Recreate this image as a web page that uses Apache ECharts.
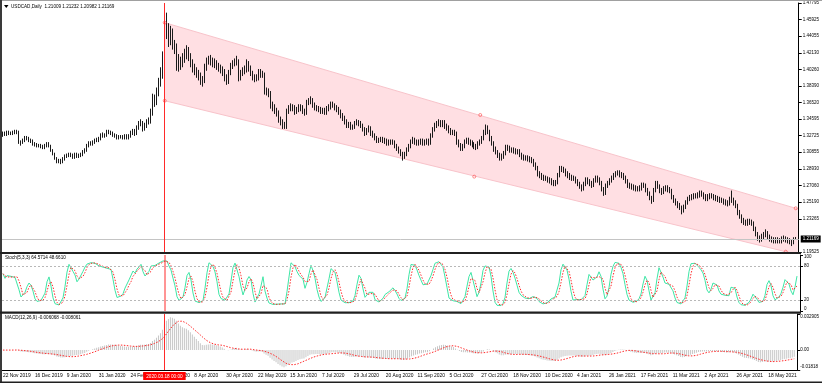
<!DOCTYPE html>
<html><head><meta charset="utf-8">
<script src="https://cdn.jsdelivr.net/npm/echarts@6/dist/echarts.min.js"></script>
<style>html,body{margin:0;padding:0;background:#fff}#c{width:822px;height:383px}</style>
</head><body><div id="c"></div>
<script>
// ---------- data ----------
const dateLabels = ['22 Nov 2019','16 Dec 2019','9 Jan 2020','31 Jan 2020','24 Feb 2020','17 Mar 2020','8 Apr 2020','30 Apr 2020','22 May 2020','15 Jun 2020','7 Jul 2020','29 Jul 2020','20 Aug 2020','11 Sep 2020','5 Oct 2020','27 Oct 2020','18 Nov 2020','10 Dec 2020','4 Jan 2021','26 Jan 2021','17 Feb 2021','11 Mar 2021','2 Apr 2021','26 Apr 2021','18 May 2021'];
const labelEvery = 16;
const firstOpen = 1.329;
const closes = [1.330,1.329,1.331,1.330,1.330,1.331,1.331,1.332,1.321,1.319,
1.322,1.325,1.324,1.322,1.321,1.318,1.317,1.316,1.316,1.315,
1.314,1.316,1.318,1.316,1.311,1.307,1.302,1.298,1.299,1.298,
1.301,1.304,1.305,1.306,1.305,1.303,1.306,1.304,1.305,1.306,
1.309,1.311,1.316,1.319,1.318,1.320,1.322,1.322,1.324,1.328,
1.327,1.328,1.332,1.331,1.330,1.328,1.327,1.325,1.326,1.326,
1.325,1.327,1.325,1.327,1.330,1.332,1.330,1.337,1.341,1.342,
1.336,1.339,1.343,1.344,1.354,1.368,1.366,1.377,1.388,1.396,
1.419,1.447,1.450,1.437,1.446,1.431,1.428,1.416,1.406,1.412,
1.416,1.421,1.425,1.418,1.410,1.405,1.401,1.398,1.395,1.389,
1.390,1.405,1.412,1.413,1.412,1.410,1.409,1.406,1.404,1.402,
1.399,1.393,1.389,1.399,1.406,1.409,1.411,1.412,1.393,1.398,
1.401,1.402,1.410,1.404,1.398,1.394,1.392,1.393,1.400,1.397,
1.397,1.377,1.378,1.376,1.362,1.360,1.356,1.353,1.346,1.343,
1.339,1.337,1.355,1.358,1.360,1.359,1.355,1.357,1.360,1.359,
1.355,1.353,1.365,1.366,1.368,1.362,1.359,1.358,1.357,1.355,
1.356,1.354,1.358,1.360,1.363,1.362,1.359,1.357,1.354,1.350,
1.347,1.343,1.339,1.340,1.337,1.337,1.341,1.343,1.341,1.339,
1.335,1.330,1.333,1.336,1.330,1.328,1.325,1.322,1.322,1.323,
1.322,1.321,1.319,1.320,1.320,1.320,1.316,1.313,1.310,1.307,
1.303,1.306,1.311,1.315,1.320,1.322,1.320,1.319,1.320,1.321,
1.319,1.320,1.321,1.319,1.327,1.334,1.339,1.341,1.342,1.340,
1.342,1.338,1.336,1.333,1.331,1.331,1.330,1.320,1.317,1.313,
1.315,1.320,1.322,1.320,1.319,1.317,1.315,1.314,1.318,1.320,
1.324,1.330,1.336,1.332,1.324,1.319,1.312,1.309,1.305,1.302,
1.304,1.307,1.314,1.313,1.311,1.311,1.310,1.309,1.309,1.306,
1.303,1.302,1.302,1.301,1.300,1.299,1.295,1.291,1.284,1.282,
1.280,1.279,1.279,1.277,1.276,1.274,1.273,1.274,1.282,1.290,
1.289,1.288,1.284,1.282,1.280,1.279,1.279,1.276,1.273,1.270,
1.267,1.272,1.277,1.275,1.273,1.271,1.276,1.279,1.277,1.274,
1.267,1.262,1.270,1.273,1.276,1.279,1.282,1.284,1.285,1.283,
1.282,1.280,1.276,1.271,1.270,1.269,1.268,1.267,1.267,1.268,
1.271,1.271,1.266,1.262,1.257,1.254,1.265,1.273,1.270,1.265,
1.263,1.267,1.268,1.266,1.265,1.258,1.254,1.251,1.248,1.246,
1.242,1.246,1.251,1.255,1.257,1.258,1.259,1.259,1.260,1.262,
1.261,1.258,1.256,1.258,1.259,1.259,1.257,1.256,1.255,1.254,
1.254,1.252,1.251,1.250,1.255,1.254,1.251,1.248,1.240,1.236,
1.231,1.229,1.228,1.230,1.229,1.228,1.222,1.216,1.211,1.209,
1.213,1.215,1.217,1.212,1.210,1.209,1.208,1.209,1.208,1.208,
1.210,1.211,1.209,1.208,1.207,1.205,1.21009,1.21169];
const highs = [1.332,1.332,1.333,1.333,1.332,1.333,1.334,1.334,1.333,1.322,
1.324,1.327,1.327,1.326,1.324,1.323,1.320,1.319,1.318,1.318,
1.317,1.318,1.320,1.320,1.317,1.312,1.308,1.303,1.301,1.301,
1.303,1.306,1.307,1.308,1.308,1.307,1.308,1.308,1.307,1.308,
1.311,1.313,1.318,1.321,1.321,1.322,1.324,1.325,1.326,1.330,
1.331,1.330,1.334,1.334,1.333,1.332,1.330,1.329,1.328,1.328,
1.328,1.329,1.329,1.329,1.333,1.335,1.335,1.339,1.344,1.346,
1.344,1.342,1.346,1.348,1.358,1.375,1.374,1.382,1.393,1.405,
1.423,1.453,1.467,1.455,1.452,1.449,1.436,1.432,1.420,1.417,
1.421,1.426,1.430,1.428,1.421,1.414,1.409,1.405,1.402,1.399,
1.395,1.409,1.416,1.418,1.419,1.416,1.415,1.413,1.410,1.408,
1.406,1.403,1.397,1.402,1.410,1.413,1.415,1.418,1.414,1.402,
1.405,1.407,1.414,1.412,1.407,1.401,1.397,1.397,1.403,1.403,
1.401,1.399,1.382,1.381,1.378,1.366,1.363,1.359,1.356,1.349,
1.346,1.343,1.358,1.362,1.364,1.363,1.362,1.360,1.363,1.363,
1.362,1.358,1.368,1.370,1.372,1.370,1.365,1.362,1.361,1.360,
1.359,1.359,1.361,1.363,1.366,1.366,1.364,1.362,1.360,1.357,
1.353,1.350,1.346,1.343,1.343,1.340,1.344,1.346,1.345,1.344,
1.341,1.337,1.336,1.339,1.338,1.333,1.330,1.327,1.325,1.326,
1.326,1.325,1.324,1.323,1.323,1.323,1.322,1.318,1.315,1.312,
1.309,1.309,1.314,1.318,1.323,1.326,1.325,1.323,1.323,1.324,
1.324,1.323,1.324,1.324,1.330,1.337,1.342,1.344,1.346,1.345,
1.345,1.345,1.341,1.339,1.336,1.334,1.334,1.332,1.323,1.319,
1.318,1.323,1.325,1.325,1.323,1.322,1.320,1.318,1.321,1.323,
1.327,1.334,1.340,1.339,1.334,1.327,1.321,1.315,1.311,1.308,
1.307,1.310,1.317,1.317,1.316,1.314,1.314,1.313,1.312,1.312,
1.308,1.306,1.305,1.305,1.304,1.303,1.301,1.297,1.293,1.287,
1.285,1.283,1.282,1.281,1.280,1.279,1.277,1.277,1.285,1.293,
1.293,1.292,1.290,1.287,1.285,1.283,1.282,1.281,1.278,1.275,
1.272,1.275,1.280,1.280,1.278,1.276,1.279,1.282,1.282,1.280,
1.276,1.269,1.273,1.276,1.279,1.282,1.285,1.287,1.288,1.288,
1.286,1.285,1.282,1.278,1.274,1.273,1.272,1.271,1.270,1.271,
1.274,1.274,1.273,1.268,1.264,1.259,1.268,1.276,1.276,1.272,
1.268,1.270,1.271,1.271,1.269,1.267,1.260,1.256,1.253,1.251,
1.248,1.249,1.254,1.258,1.260,1.261,1.262,1.262,1.263,1.265,
1.265,1.263,1.261,1.261,1.262,1.262,1.261,1.260,1.259,1.258,
1.257,1.256,1.255,1.254,1.258,1.265,1.257,1.254,1.250,1.243,
1.238,1.234,1.232,1.233,1.233,1.232,1.230,1.224,1.218,1.214,
1.216,1.218,1.221,1.219,1.215,1.213,1.212,1.212,1.212,1.211,
1.213,1.214,1.213,1.212,1.211,1.209,1.212,1.21232];
const lows = [1.326,1.327,1.327,1.328,1.328,1.328,1.329,1.329,1.318,1.316,
1.318,1.320,1.322,1.320,1.319,1.316,1.315,1.314,1.314,1.313,
1.312,1.312,1.314,1.314,1.309,1.305,1.300,1.296,1.296,1.295,
1.296,1.299,1.302,1.303,1.303,1.301,1.301,1.302,1.302,1.303,
1.304,1.307,1.309,1.314,1.316,1.316,1.318,1.320,1.320,1.322,
1.325,1.325,1.326,1.329,1.328,1.326,1.325,1.323,1.323,1.324,
1.323,1.323,1.323,1.323,1.325,1.328,1.327,1.328,1.334,1.338,
1.332,1.333,1.336,1.340,1.341,1.350,1.360,1.362,1.372,1.383,
1.392,1.415,1.437,1.428,1.430,1.425,1.420,1.401,1.400,1.402,
1.405,1.410,1.414,1.412,1.405,1.399,1.396,1.393,1.390,1.385,
1.383,1.387,1.401,1.408,1.407,1.405,1.404,1.402,1.400,1.398,
1.395,1.389,1.385,1.386,1.396,1.403,1.406,1.407,1.389,1.390,
1.395,1.397,1.399,1.400,1.395,1.390,1.388,1.389,1.390,1.393,
1.393,1.374,1.373,1.371,1.358,1.355,1.352,1.349,1.342,1.339,
1.335,1.335,1.335,1.352,1.355,1.355,1.351,1.352,1.354,1.355,
1.352,1.350,1.351,1.362,1.363,1.359,1.356,1.355,1.354,1.352,
1.352,1.351,1.351,1.355,1.357,1.359,1.356,1.354,1.351,1.347,
1.344,1.340,1.336,1.336,1.334,1.334,1.335,1.339,1.338,1.336,
1.332,1.327,1.328,1.331,1.327,1.325,1.322,1.319,1.319,1.320,
1.319,1.318,1.316,1.316,1.317,1.317,1.313,1.310,1.307,1.304,
1.299,1.301,1.304,1.309,1.313,1.318,1.317,1.316,1.316,1.317,
1.316,1.316,1.317,1.316,1.317,1.325,1.332,1.336,1.338,1.337,
1.337,1.335,1.333,1.330,1.328,1.328,1.327,1.317,1.314,1.310,
1.310,1.313,1.318,1.317,1.316,1.314,1.312,1.311,1.312,1.316,
1.318,1.322,1.328,1.329,1.321,1.316,1.309,1.306,1.302,1.299,
1.299,1.301,1.305,1.310,1.308,1.308,1.307,1.306,1.306,1.303,
1.300,1.299,1.299,1.298,1.297,1.296,1.292,1.288,1.281,1.279,
1.277,1.276,1.276,1.274,1.273,1.271,1.270,1.270,1.272,1.280,
1.286,1.285,1.281,1.279,1.277,1.276,1.276,1.273,1.270,1.267,
1.264,1.265,1.270,1.272,1.270,1.268,1.269,1.274,1.274,1.271,
1.264,1.259,1.260,1.268,1.271,1.274,1.277,1.280,1.282,1.280,
1.279,1.277,1.273,1.268,1.267,1.266,1.265,1.264,1.264,1.264,
1.265,1.268,1.263,1.259,1.254,1.250,1.252,1.263,1.267,1.262,
1.260,1.261,1.264,1.263,1.262,1.255,1.251,1.248,1.245,1.243,
1.238,1.240,1.244,1.249,1.253,1.254,1.255,1.256,1.256,1.257,
1.258,1.255,1.253,1.253,1.255,1.256,1.254,1.253,1.252,1.251,
1.251,1.249,1.248,1.247,1.248,1.251,1.248,1.245,1.237,1.233,
1.228,1.226,1.225,1.225,1.226,1.225,1.219,1.213,1.208,1.206,
1.207,1.210,1.212,1.209,1.207,1.206,1.205,1.205,1.205,1.205,
1.205,1.207,1.206,1.205,1.204,1.202,1.204,1.20982];

const mainTicks = [1.47795,1.45925,1.44055,1.42130,1.40260,1.38390,1.36520,1.34595,1.32725,1.30855,1.28930,1.27060,1.25190,1.23265,1.19525];
const mainRange = [1.19525, 1.47795];
const stochTicks = [100, 80, 20, 0];
const stochLevels = [80, 20];
const macdTicks = [0.032905, 0, -0.01818];
const macdTickText = ['0.032905', '0.00', '-0.01818'];
const macdRange = [-0.01818, 0.032905];
const lastPrice = 1.21169;
const markerBar = 81;
const markerText = '2020.03.18 00:00';
const channelX = [81, 398];
const channelUpper = [1.4556, 1.2442];
const channelLower = [1.3670, 1.1923];
const channelPoints = [[81,1.4556],[81,1.3670],[239,1.3508],[236,1.2808],[397,1.2449],[392,1.1956]];
const titleMain = 'USDCAD,Daily  1.21009 1.21232 1.20982 1.21169';
const titleStoch = 'Stoch(5,3,3) 64.5714 48.6610';
const titleMacd = 'MACD(12,26,9) -0.006068 -0.008061';

// ---------- derived tables ----------
const opens = [firstOpen].concat(closes.slice(0, -1));
const candles = closes.map((c, i) => [opens[i], c, lows[i], highs[i]]);
const cats = Array.from({length: closes.length + 1}, (_, i) => String(i));

// indicators as defined by the terminal (MACD 12,26,9 ; Stochastic 5,3,3)
function ema(src, p) { const k = 2 / (p + 1); let e = src[0]; return src.map((v, i) => (e = i === 0 ? v : e + k * (v - e))); }
function sma(src, p) { return src.map((_, i) => { const s = Math.max(0, i - p + 1); let t = 0; for (let j = s; j <= i; j++) t += src[j]; return t / (i - s + 1); }); }
const e12 = ema(closes, 12), e26 = ema(closes, 26);
const macdMain = closes.map((_, i) => e12[i] - e26[i]);
const macdSignal = sma(macdMain, 9);
const rawNum = [], rawDen = [];
closes.forEach((c, i) => { const s = Math.max(0, i - 4); let hh = -Infinity, ll = Infinity; for (let j = s; j <= i; j++) { hh = Math.max(hh, highs[j]); ll = Math.min(ll, lows[j]); } rawNum.push(c - ll); rawDen.push(hh - ll); });
const stochK = closes.map((_, i) => { const s = Math.max(0, i - 2); let n = 0, d = 0; for (let j = s; j <= i; j++) { n += rawNum[j]; d += rawDen[j]; } return d > 0 ? n / d * 100 : 50; });
const stochD = sma(stochK, 3);

// ---------- chart ----------
const FONT = 'Liberation Sans, Arial, sans-serif';
const chart = echarts.init(document.getElementById('c'), null, {renderer: 'canvas'});
const grids = [
  {left: 2, top: 3, width: 798, height: 249},
  {left: 2, top: 255, width: 798, height: 56},
  {left: 2, top: 314, width: 798, height: 56}
];
const redLine = () => ({xAxis: String(markerBar), lineStyle: {color: '#ff2a2a', width: 1, type: 'solid', opacity: 1}, label: {show: false}});

chart.setOption({
  animation: false,
  backgroundColor: '#ffffff',
  grid: grids,
  xAxis: grids.map((g, gi) => ({
    type: 'category', gridIndex: gi, data: cats, boundaryGap: true,
    axisLine: {show: gi === 2, onZero: false, lineStyle: {color: '#000', width: 1}},
    axisTick: {show: false},
    splitLine: {show: false},
    axisLabel: gi === 2 ? {
      show: true, align: 'left', margin: 3, fontSize: 4.9, color: '#000', fontFamily: FONT,
      interval: (idx) => idx % labelEvery === 0 && idx / labelEvery < dateLabels.length,
      formatter: (v, idx) => dateLabels[idx / labelEvery] || ''
    } : {show: false}
  })),
  yAxis: [
    {type: 'value', gridIndex: 0, position: 'right', min: mainRange[0], max: mainRange[1], scale: true,
      axisLine: {show: true, lineStyle: {color: '#000', width: 1}},
      axisTick: {show: true, customValues: mainTicks, length: 3, lineStyle: {color: '#000'}},
      axisLabel: {show: true, customValues: mainTicks, formatter: v => v.toFixed(5), fontSize: 4.5, color: '#000', margin: 4, fontFamily: FONT},
      splitLine: {show: false}},
    {type: 'value', gridIndex: 1, position: 'right', min: 0, max: 100,
      axisLine: {show: true, lineStyle: {color: '#000', width: 1}},
      axisTick: {show: true, customValues: stochTicks, length: 3, lineStyle: {color: '#000'}},
      axisLabel: {show: true, customValues: stochTicks, fontSize: 4.5, color: '#000', margin: 4, fontFamily: FONT,
        formatter: v => v === 100 ? '{t|100}' : (v === 0 ? '{b|0}' : String(v)),
        rich: {t: {fontSize: 4.5, padding: [4, 0, 0, 0], fontFamily: FONT}, b: {fontSize: 4.5, padding: [0, 0, 4, 0], fontFamily: FONT}}},
      splitLine: {show: false}},
    {type: 'value', gridIndex: 2, position: 'right', min: macdRange[0], max: macdRange[1],
      axisLine: {show: true, lineStyle: {color: '#000', width: 1}},
      axisTick: {show: true, customValues: macdTicks, length: 3, lineStyle: {color: '#000'}},
      axisLabel: {show: true, customValues: macdTicks, fontSize: 4.5, color: '#000', margin: 3, fontFamily: FONT,
        formatter: v => { const k = macdTicks.indexOf(v); const t = k >= 0 ? macdTickText[k] : ''; return k === 0 ? '{t|' + t + '}' : (k === 2 ? '{b|' + t + '}' : t); },
        rich: {t: {fontSize: 4.5, padding: [6, 0, 0, 0], fontFamily: FONT}, b: {fontSize: 4.5, padding: [0, 0, 6, 0], fontFamily: FONT}}},
      splitLine: {show: false}}
  ],
  series: [
    {type: 'custom', xAxisIndex: 0, yAxisIndex: 0, clip: true, silent: true, z: 1,
      data: [[channelX[0], channelUpper[0], channelLower[0], channelX[1], channelUpper[1], channelLower[1]]],
      encode: {x: [0, 3], y: [1, 2, 4, 5]},
      renderItem: (params, api) => {
        const a = api.coord([api.value(0), api.value(1)]);
        const b = api.coord([api.value(3), api.value(4)]);
        const c = api.coord([api.value(3), api.value(5)]);
        const d = api.coord([api.value(0), api.value(2)]);
        return {type: 'group', children: [
          {type: 'polygon', shape: {points: [a, b, c, d]}, style: {fill: '#ffdfe3', stroke: null}},
          {type: 'line', shape: {x1: a[0], y1: a[1], x2: b[0], y2: b[1]}, style: {stroke: '#f8c3ca', lineWidth: 1}},
          {type: 'line', shape: {x1: d[0], y1: d[1], x2: c[0], y2: c[1]}, style: {stroke: '#f8c3ca', lineWidth: 1}}
        ]};
      }},
    {type: 'candlestick', xAxisIndex: 0, yAxisIndex: 0, data: candles, z: 3,
      barWidth: 1.2,
      itemStyle: {color: '#ffffff', color0: '#1a1a1a', borderColor: '#1a1a1a', borderColor0: '#1a1a1a', borderWidth: 1},
      markLine: {silent: true, symbol: 'none', animation: false, data: [
        {yAxis: lastPrice, lineStyle: {color: '#c4c4c4', width: 1, type: 'solid'},
          label: {show: true, position: 'end', distance: 2, formatter: lastPrice.toFixed(5), color: '#fff', backgroundColor: '#000', padding: [1, 2, 1, 2], fontSize: 4.5, fontFamily: FONT}}
      ]}},
    {type: 'line', xAxisIndex: 0, yAxisIndex: 0, data: [], z: 5, silent: true,
      markLine: {silent: true, symbol: 'none', animation: false, data: [redLine()]}},
    {type: 'scatter', xAxisIndex: 0, yAxisIndex: 0, data: channelPoints, symbol: 'circle', symbolSize: 3, z: 6, silent: true,
      itemStyle: {color: 'rgba(255,255,255,0)', borderColor: '#ff3a3a', borderWidth: 0.7}},
    {type: 'line', xAxisIndex: 1, yAxisIndex: 1, data: stochK, showSymbol: false, symbol: 'none', z: 3,
      lineStyle: {color: '#3ee6a6', width: 1},
      markLine: {silent: true, symbol: 'none', animation: false, data:
        stochLevels.map(v => ({yAxis: v, lineStyle: {color: '#b8b8b8', width: 1, type: [2, 2]}, label: {show: false}}))
      }},
    {type: 'line', xAxisIndex: 1, yAxisIndex: 1, data: stochD, showSymbol: false, symbol: 'none', z: 4,
      lineStyle: {color: '#ff2b2b', width: 1, type: [1.5, 1.5]}},
    {type: 'line', xAxisIndex: 1, yAxisIndex: 1, z: 6, silent: true, showSymbol: false, symbol: 'none',
      data: [[String(markerBar), 0], [String(markerBar), 100]],
      lineStyle: {color: '#ff2a2a', width: 1, type: 'solid'}},
    {type: 'bar', xAxisIndex: 2, yAxisIndex: 2, data: macdMain, barWidth: 1, z: 2,
      itemStyle: {color: '#c6c6c6'}},
    {type: 'line', xAxisIndex: 2, yAxisIndex: 2, data: macdSignal, showSymbol: false, symbol: 'none', z: 4,
      lineStyle: {color: '#ff2b2b', width: 1, type: [1.5, 1.5]}},
    {type: 'line', xAxisIndex: 2, yAxisIndex: 2, data: [], z: 5, silent: true,
      markLine: {silent: true, symbol: 'none', animation: false, data: [
        Object.assign(redLine(), {label: {show: true, position: 'start', distance: 2, formatter: markerText, color: '#fff', backgroundColor: '#ff0000', padding: [2, 3, 1, 3], fontSize: 4.7, fontFamily: FONT}})
      ]}}
  ],
  graphic: [
    {type: 'rect', z: 100, shape: {x: 0, y: 0, width: 822, height: 1}, style: {fill: '#a0a0a0'}},
    {type: 'rect', z: 100, shape: {x: 0, y: 0, width: 2, height: 383}, style: {fill: '#3a3a3a'}},
    {type: 'rect', z: 100, shape: {x: 0, y: 252, width: 801, height: 2}, style: {fill: '#202020'}},
    {type: 'rect', z: 100, shape: {x: 0, y: 311.5, width: 801, height: 2.2}, style: {fill: '#202020'}},
    {type: 'rect', z: 100, shape: {x: 0, y: 381.5, width: 822, height: 1.5}, style: {fill: '#202020'}},
    {type: 'polygon', z: 100, shape: {points: [[4, 5], [8.5, 5], [6.25, 8]]}, style: {fill: '#000'}},
    {type: 'text', z: 100, x: 11, y: 6.5, style: {text: titleMain, fontSize: 4.6, fontFamily: FONT, fill: '#000', verticalAlign: 'middle'}},
    {type: 'text', z: 100, x: 5, y: 258, style: {text: titleStoch, fontSize: 4.6, fontFamily: FONT, fill: '#000', verticalAlign: 'middle'}},
    {type: 'text', z: 100, x: 5, y: 318, style: {text: titleMacd, fontSize: 4.6, fontFamily: FONT, fill: '#000', verticalAlign: 'middle'}}
  ]
});
</script>
</body></html>
